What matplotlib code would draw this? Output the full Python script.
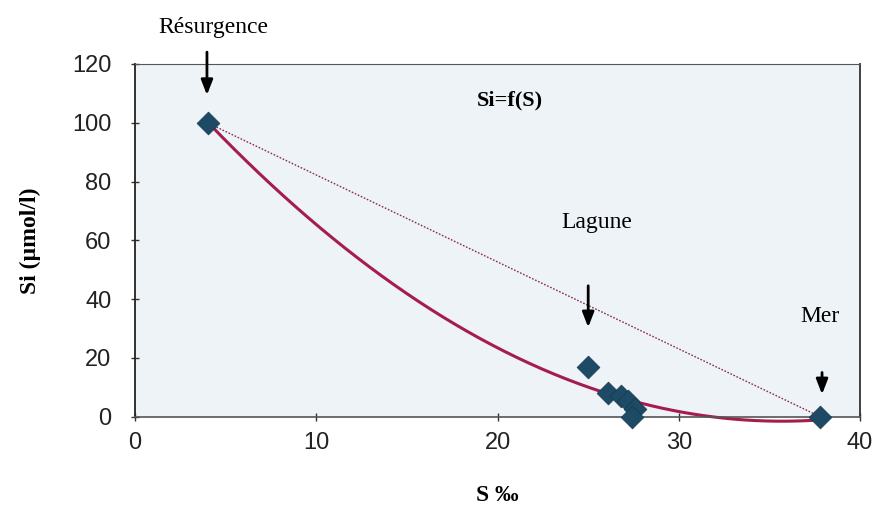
import numpy as np
import matplotlib
matplotlib.use("Agg")
import matplotlib.pyplot as plt

# Data
salinity = [4.0, 25.0, 26.1, 26.8, 27.2, 27.6, 27.4, 37.8]
silica = [100.0, 17.0, 8.0, 7.0, 5.5, 2.5, 0.0, 0.0]
x_ticks = [0, 10, 20, 30, 40]
y_ticks = [0, 20, 40, 60, 80, 100, 120]

serif = ["Liberation Serif", "DejaVu Serif"]
sans = ["Liberation Sans", "DejaVu Sans"]

fig = plt.figure(figsize=(8.8, 5.12), dpi=100)
ax = fig.add_axes([0.1534, 0.186, 0.824, 0.689])
ax.set_facecolor("#eef3f7")

# trend line (polynomial order 2 fit of the data, as in the spreadsheet)
coef = np.polyfit(salinity, silica, 2)
xs = np.linspace(min(salinity), max(salinity), 300)
ax.plot(xs, np.polyval(coef, xs), color="#a51c4f", lw=2.2, zorder=2, clip_on=False)

# mixing line between the end members
ax.plot([salinity[0], salinity[-1]], [silica[0], silica[-1]], color="#8a2b5e",
        lw=1.0, ls=(0, (1.2, 1.2)), zorder=2)

ax.scatter(salinity, silica, marker="D", s=135, color="#1d4a64", zorder=3,
           edgecolors="#163a50", linewidths=0.5, clip_on=False)

ax.set_xlim(0, 40)
ax.set_ylim(0, 120)
ax.set_xticks(x_ticks)
ax.set_yticks(y_ticks)
ax.tick_params(axis="both", direction="inout", length=6, width=1, color="#333333",
               labelsize=17)
ax.tick_params(axis="y", pad=14)
ax.tick_params(axis="x", pad=8)
for lab in ax.get_xticklabels() + ax.get_yticklabels():
    lab.set_family(sans)
    lab.set_color("#222222")

ax.spines["left"].set_color("#222222")
ax.spines["left"].set_linewidth(1.3)
ax.spines["bottom"].set_color("#555555")
ax.spines["bottom"].set_linewidth(1.2)
ax.spines["top"].set_color("#555555")
ax.spines["right"].set_color("#333333")
ax.spines["right"].set_linewidth(1.3)

ax.set_xlabel("S ‰", family=serif, fontsize=17, fontweight="bold", labelpad=22)
ax.set_ylabel("Si (µmol/l)", family=serif, fontsize=17, fontweight="bold", labelpad=22)

ax.text(20.7, 107.7, "Si=f(S)", family=serif, fontsize=16, fontweight="bold",
        ha="center", va="center")
ax.text(4.3, 132.5, "Résurgence", family=serif, fontsize=17, ha="center",
        va="center", clip_on=False)
ax.text(25.5, 66.2, "Lagune", family=serif, fontsize=17, ha="center", va="center")
ax.text(37.8, 34.2, "Mer", family=serif, fontsize=17, ha="center", va="center")

arrow = dict(arrowstyle="-|>,head_length=0.9,head_width=0.35", color="black", lw=2)
ax.annotate("", xy=(3.97, 108.5), xytext=(3.97, 125), arrowprops=arrow,
            annotation_clip=False)
ax.annotate("", xy=(25.0, 29.5), xytext=(25.0, 45.5), arrowprops=arrow)
ax.annotate("", xy=(37.9, 6.7), xytext=(37.9, 16.0), arrowprops=arrow)

fig.savefig("out.png", dpi=100)
